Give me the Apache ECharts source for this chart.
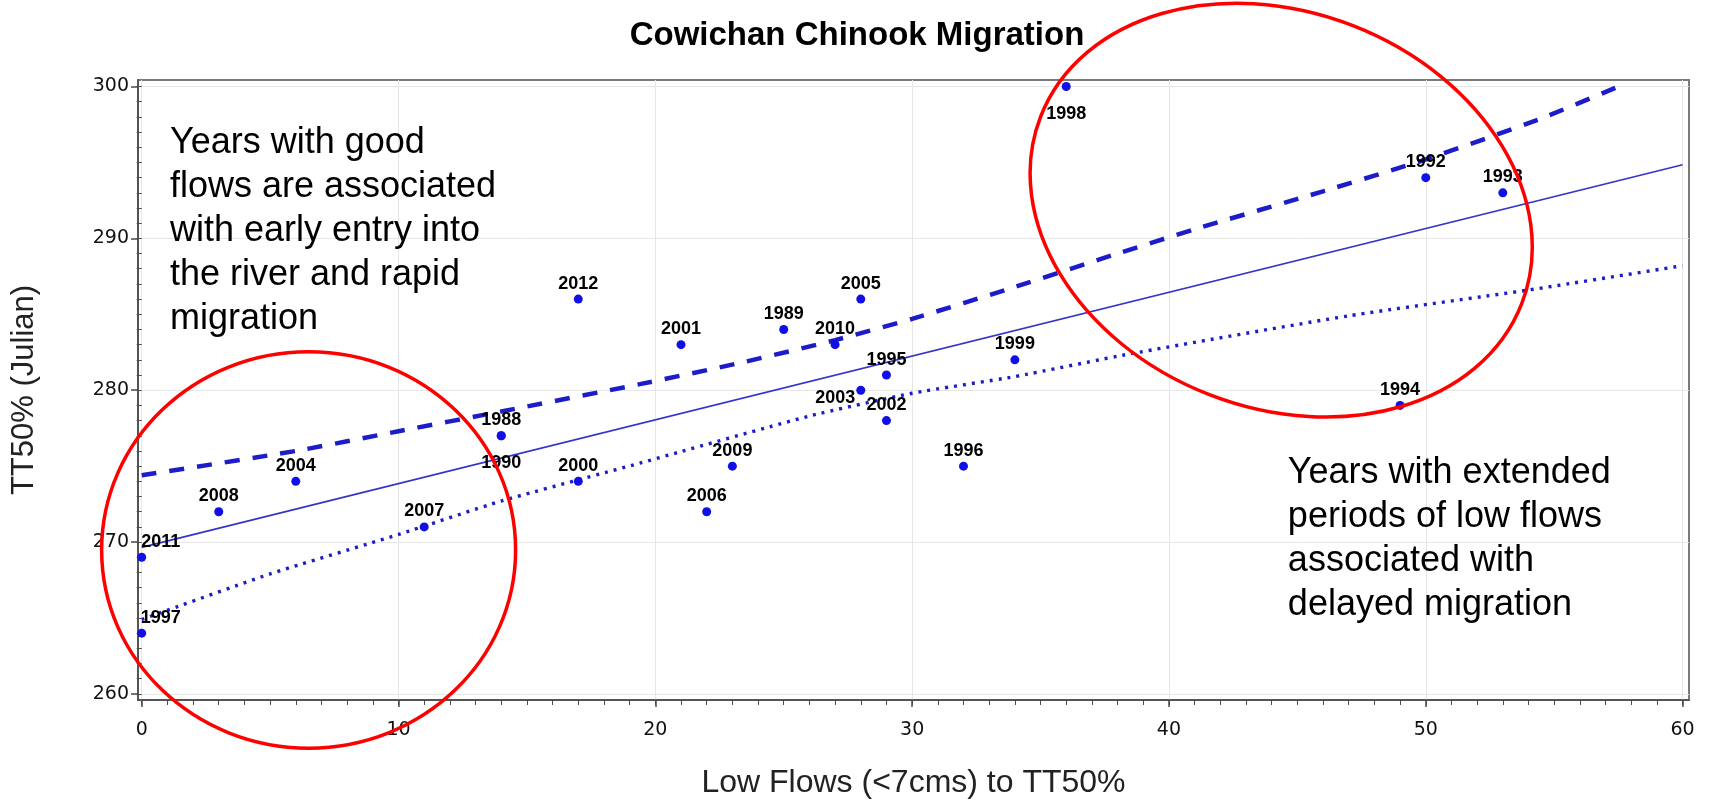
<!DOCTYPE html>
<html><head><meta charset="utf-8">
<script src="https://cdn.jsdelivr.net/npm/echarts@6/dist/echarts.min.js"></script>
<style>html,body{margin:0;padding:0;background:#fff}#c{width:1714px;height:804px}</style>
</head><body><div id="c"></div>
<script>
// ---- data ----
const years    = [1988,1989,1990,1992,1993,1994,1995,1996,1997,1998,1999,2000,2001,2002,2003,2004,2005,2006,2007,2008,2009,2010,2011,2012];
const lowFlows = [14,  25,  14,  50,  53,  49,  29,  32,  0,   36,  34,  17,  21,  29,  28,  6,   28,  22,  11,  3,   23,  27,  0,   17];
const tt50     = [277, 284, 277, 294, 293, 279, 281, 275, 264, 300, 282, 274, 283, 278, 280, 274, 286, 272, 271, 272, 275, 283, 269, 286];

const fitX   = [0, 60];
const fitY   = [269.65, 294.85];
const upperX = [0, 6, 10, 14, 19.4, 23.3, 27, 30, 34, 38, 41, 46, 50, 54.5, 57.5];
const upperY = [274.4, 276.0, 277.3, 278.6, 280.4, 281.8, 283.3, 284.7, 286.8, 289.0, 290.6, 293.1, 295.2, 297.9, 300.0];
const lowerX = [0, 5, 10, 14, 19.4, 26, 30, 34, 38.5, 47, 54, 60];
const lowerY = [264.9, 267.9, 270.5, 272.7, 275.2, 278.3, 279.8, 280.9, 282.4, 284.9, 286.6, 288.2];

const xTickLabels = [0, 10, 20, 30, 40, 50, 60];
const yTickLabels = [260, 270, 280, 290, 300];

const titleText = 'Cowichan Chinook Migration';
const xTitle = 'Low Flows (<7cms) to TT50%';
const yTitle = 'TT50% (Julian)';
const goodNote = ['Years with good', 'flows are associated', 'with early entry into', 'the river and rapid', 'migration'];
const lowNote  = ['Years with extended', 'periods of low flows', 'associated with', 'delayed migration'];

// ---- layout / style ----
const xMin = -0.144, xMax = 60.25, yMin = 259.6, yMax = 300.43;
const xMinor = []; for (let v = 0; v <= 60; v++) xMinor.push(v);
const yMinor = []; for (let v = 260; v <= 300; v++) yMinor.push(v);

const BLUE = '#0f0fe6';
const LINE = '#1c1cc8';
const AX = '#4a4a4a';

function labelFor(yr) {
  if (yr === 1998 || yr === 1990) return { position: 'bottom', distance: 14 };
  if (yr === 2011 || yr === 1997) return { position: 'top', distance: 2, offset: [19, 0] };
  if (yr === 2003) return { position: 'left', distance: 1, offset: [0, 8] };
  return { position: 'top', distance: 2 };
}

const pts = years.map((yr, i) => ({ value: [lowFlows[i], tt50[i], yr], label: labelFor(yr) }));
const zip = (xs, ys) => xs.map((x, i) => [x, ys[i]]);

const chart = echarts.init(document.getElementById('c'));
const tickLabelStyle = { fontFamily: 'DejaVu Sans', fontSize: 19, color: '#111' };

chart.setOption({
  animation: false,
  backgroundColor: '#fff',
  title: { text: titleText, left: 'center', top: 14,
    textStyle: { fontFamily: 'Liberation Sans', fontWeight: 'bold', fontSize: 33, color: '#000' } },
  grid: { left: 138, right: 25, top: 80, bottom: 100, show: true, borderColor: '#7a7a7a', borderWidth: 2 },
  xAxis: [
    { type: 'value', min: xMin, max: xMax, position: 'bottom',
      name: xTitle, nameLocation: 'middle', nameGap: 67,
      nameTextStyle: { fontFamily: 'Liberation Sans', fontSize: 32, color: '#222' },
      axisLine: { show: true, onZero: false, lineStyle: { color: AX, width: 1.5 } },
      axisTick: { show: true, customValues: xTickLabels, length: 7, lineStyle: { color: AX, width: 1.5 } },
      axisLabel: Object.assign({ customValues: xTickLabels, margin: 21 }, tickLabelStyle),
      splitLine: { show: true, lineStyle: { color: '#e6e6e6', width: 1 } } },
    { type: 'value', min: xMin, max: xMax, position: 'bottom',
      axisLine: { show: false }, axisLabel: { show: false },
      axisTick: { show: true, customValues: xMinor, length: 5, lineStyle: { color: AX, width: 1 } },
      splitLine: { show: false } }
  ],
  yAxis: [
    { type: 'value', min: yMin, max: yMax, position: 'left',
      name: yTitle, nameLocation: 'middle', nameGap: 98, nameRotate: 90,
      nameTextStyle: { fontFamily: 'Liberation Sans', fontSize: 31, color: '#222' },
      axisLine: { show: true, onZero: false, lineStyle: { color: AX, width: 1.5 } },
      axisTick: { show: true, customValues: yTickLabels, length: 7, lineStyle: { color: AX, width: 1.5 } },
      axisLabel: Object.assign({ customValues: yTickLabels, margin: 9 }, tickLabelStyle),
      splitLine: { show: true, lineStyle: { color: '#e6e6e6', width: 1 } } },
    { type: 'value', min: yMin, max: yMax, position: 'left',
      axisLine: { show: false }, axisLabel: { show: false },
      axisTick: { show: true, customValues: yMinor, length: 5, lineStyle: { color: AX, width: 1 } },
      splitLine: { show: false } }
  ],
  series: [
    { type: 'line', name: 'fit', data: zip(fitX, fitY), showSymbol: false, z: 3,
      lineStyle: { color: '#3434cc', width: 1.6 } },
    { type: 'line', name: 'upper', data: zip(upperX, upperY), showSymbol: false, smooth: 0.2, z: 3,
      lineStyle: { color: LINE, width: 4.5, type: [15, 13] } },
    { type: 'line', name: 'lower', data: zip(lowerX, lowerY), showSymbol: false, smooth: 0.2, z: 3,
      lineStyle: { color: LINE, width: 3.4, type: [3, 6] } },
    { type: 'scatter', name: 'years', data: pts, symbolSize: 9, z: 5,
      itemStyle: { color: BLUE, opacity: 1 },
      label: { show: true, formatter: p => String(p.value[2]), fontFamily: 'Liberation Sans',
        fontWeight: 'bold', fontSize: 18, color: '#000' } }
  ]
});

// ---- annotations placed in data coordinates ----
const toPx = (x, y) => chart.convertToPixel({ gridIndex: 0 }, [x, y]);
function ellipse(cx, cy, rx, ry, rot) {
  const c = toPx(cx, cy);
  const rxp = Math.abs(toPx(cx + rx, cy)[0] - c[0]);
  const ryp = Math.abs(toPx(cx, cy + ry)[1] - c[1]);
  return { type: 'ellipse', x: c[0], y: c[1], rotation: rot, z: 100,
    shape: { cx: 0, cy: 0, rx: rxp, ry: ryp },
    style: { fill: null, stroke: '#ff0000', lineWidth: 3.5 } };
}
function note(lines, x, y) {
  const p = toPx(x, y);
  return { type: 'text', x: p[0], y: p[1] - 22, z: 90,
    style: { text: lines.join('\n'), font: '36px "Liberation Sans"', fill: '#000',
      lineHeight: 44, textAlign: 'left', textVerticalAlign: 'top', align: 'left', verticalAlign: 'top' } };
}
chart.setOption({
  graphic: [
    note(goodNote, 1.1, 296.3),
    note(lowNote, 44.63, 274.55),
    ellipse(6.5, 269.48, 8.06, 13.05, 0),
    ellipse(44.37, 291.86, 10.05, 13.04, -0.371)
  ]
});
</script>
</body></html>
